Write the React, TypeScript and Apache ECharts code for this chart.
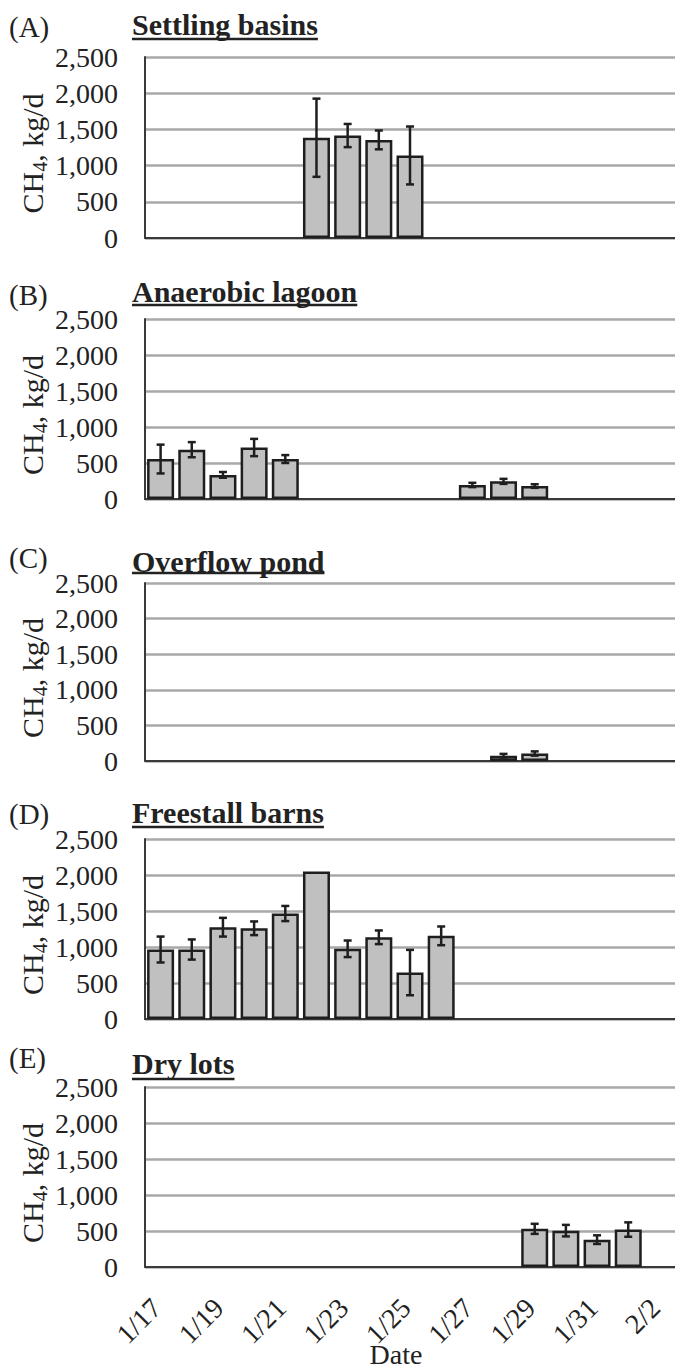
import React, { useEffect, useRef } from "react";
import * as echarts from "echarts";

const dates = ["1/17","1/18","1/19","1/20","1/21","1/22","1/23","1/24","1/25","1/26","1/27","1/28","1/29","1/30","1/31","2/1","2/2"];

const panelLetters = ["(A)", "(B)", "(C)", "(D)", "(E)"];
const panelTitles = ["Settling basins", "Anaerobic lagoon", "Overflow pond", "Freestall barns", "Dry lots"];

const settlingMean = [null, null, null, null, null, 1385, 1415, 1355, 1140, null, null, null, null, null, null, null, null];
const settlingErr = [null, null, null, null, null, 540, 160, 130, 400, null, null, null, null, null, null, null, null];

const lagoonMean = [555, 685, 335, 715, 555, null, null, null, null, null, 195, 245, 180, null, null, null, null];
const lagoonErr = [200, 105, 40, 120, 55, null, null, null, null, null, 30, 35, 25, null, null, null, null];

const overflowMean = [null, null, null, null, null, null, null, null, null, null, null, 75, 105, null, null, null, null];
const overflowErr = [null, null, null, null, null, null, null, null, null, null, null, 25, 30, null, null, null, null];

const barnsMean = [965, 965, 1275, 1260, 1465, 2050, 975, 1135, 645, 1155, null, null, null, null, null, null, null];
const barnsErr = [180, 140, 130, 95, 105, null, 115, 95, 315, 130, null, null, null, null, null, null, null];

const drylotsMean = [null, null, null, null, null, null, null, null, null, null, null, null, 530, 505, 380, 520, null];
const drylotsErr = [null, null, null, null, null, null, null, null, null, null, null, null, 70, 80, 60, 100, null];

const yTicks = [0, 500, 1000, 1500, 2000, 2500];

const means = [settlingMean, lagoonMean, overflowMean, barnsMean, drylotsMean];
const errs = [settlingErr, lagoonErr, overflowErr, barnsErr, drylotsErr];

// layout
const gridTop = [57, 319, 583, 839, 1087];
const gridHeight = [181, 180, 178, 180, 180];
const letterY = [27, 295, 558, 814, 1058];
const titleY = [24, 291, 561, 812, 1063];
const underlineY = [39, 305, 573, 827, 1079];

const FONT = "Liberation Serif";
const TXT = "#222";

export default function App() {
  const ref = useRef<HTMLDivElement>(null);
  useEffect(() => {
    if (!ref.current) return;
    const chart = echarts.init(ref.current, null, { renderer: "svg" });

    const ctx = document.createElement("canvas").getContext("2d")!;
    const measure = (t: string, font: string) => {
      ctx.font = font;
      return ctx.measureText(t).width;
    };

    const grids: any[] = [];
    const xAxes: any[] = [];
    const yAxes: any[] = [];
    const series: any[] = [];
    const graphics: any[] = [];

    const wCH = measure("CH", `30px "${FONT}"`);
    const w4 = measure("4", `20px "${FONT}"`);
    const wRest = measure(", kg/d", `30px "${FONT}"`);
    const wTot = wCH + w4 + wRest;

    for (let p = 0; p < 5; p++) {
      const last = p === 4;
      grids.push({ left: 145, right: 0, top: gridTop[p], height: gridHeight[p] });
      xAxes.push({
        type: "category",
        gridIndex: p,
        data: dates,
        boundaryGap: true,
        axisLine: { show: true, lineStyle: { color: "#3a3a3a", width: 2 } },
        axisTick: { show: false },
        axisLabel: last
          ? { show: true, interval: 1, rotate: 45, fontSize: 28, fontFamily: FONT, color: TXT, margin: 32, padding: [0, 6, 0, 0] }
          : { show: false },
        splitLine: { show: false },
      });
      yAxes.push({
        type: "value",
        gridIndex: p,
        min: yTicks[0],
        max: yTicks[yTicks.length - 1],
        interval: 500,
        axisLine: { show: true, lineStyle: { color: "#3a3a3a", width: 2 } },
        axisTick: { show: false },
        axisLabel: {
          fontSize: 28,
          fontFamily: FONT,
          color: TXT,
          margin: 27,
          formatter: (v: number) => v.toLocaleString("en-US"),
        },
        splitLine: { show: true, lineStyle: { color: "#a8a8a8", width: 2.5 } },
      });
      series.push({
        type: "bar",
        xAxisIndex: p,
        yAxisIndex: p,
        data: means[p],
        barWidth: 27,
        itemStyle: { color: "#c0c0c0", borderColor: "#1e1e1e", borderWidth: 2.5 },
        z: 2,
      });
      const errData: any[] = [];
      means[p].forEach((m, i) => {
        const e = errs[p][i];
        if (m != null && e != null) errData.push([i, m, e]);
      });
      series.push({
        type: "custom",
        xAxisIndex: p,
        yAxisIndex: p,
        data: errData,
        z: 5,
        renderItem: (params: any, api: any) => {
          const x = api.value(0);
          const v = api.value(1);
          const e = api.value(2);
          const t = api.coord([x, v + e]);
          const b = api.coord([x, Math.max(0, v - e)]);
          const hw = 4;
          const st = { stroke: "#1e1e1e", lineWidth: 2.5 };
          return {
            type: "group",
            children: [
              { type: "line", shape: { x1: t[0], y1: t[1], x2: b[0], y2: b[1] }, style: st },
              { type: "line", shape: { x1: t[0] - hw, y1: t[1], x2: t[0] + hw, y2: t[1] }, style: st },
              { type: "line", shape: { x1: b[0] - hw, y1: b[1], x2: b[0] + hw, y2: b[1] }, style: st },
            ],
          };
        },
      });

      // panel letter
      graphics.push({
        type: "text",
        x: 9,
        y: letterY[p],
        style: { text: panelLetters[p], fontSize: 29, fontFamily: FONT, fill: TXT, verticalAlign: "middle", align: "left" },
      });
      // title
      const tx = 132;
      graphics.push({
        type: "text",
        x: tx,
        y: titleY[p],
        style: { text: panelTitles[p], fontSize: 30, fontWeight: "bold", fontFamily: FONT, fill: TXT, verticalAlign: "middle", align: "left" },
      });
      const w = measure(panelTitles[p], `bold 30px "${FONT}"`);
      graphics.push({
        type: "line",
        shape: { x1: tx, y1: underlineY[p], x2: tx + w, y2: underlineY[p] },
        style: { stroke: TXT, lineWidth: 2.5 },
      });
      // y-axis title (rotated group with subscript)
      const x0 = -wTot / 2;
      graphics.push({
        type: "group",
        x: 32,
        y: gridTop[p] + gridHeight[p] / 2 + 6,
        rotation: Math.PI / 2,
        children: [
          {
            type: "text",
            x: x0,
            y: 0,
            style: { text: "CH", fontSize: 30, fontFamily: FONT, fill: TXT, align: "left", verticalAlign: "middle" },
          },
          {
            type: "text",
            x: x0 + wCH,
            y: 8,
            style: { text: "4", fontSize: 20, fontFamily: FONT, fill: TXT, align: "left", verticalAlign: "middle" },
          },
          {
            type: "text",
            x: x0 + wCH + w4,
            y: 0,
            style: { text: ", kg/d", fontSize: 30, fontFamily: FONT, fill: TXT, align: "left", verticalAlign: "middle" },
          },
        ],
      });
    }

    graphics.push({
      type: "text",
      x: 396,
      y: 1354,
      style: { text: "Date", fontSize: 28, fontFamily: FONT, fill: TXT, align: "center", verticalAlign: "middle" },
    });

    chart.setOption({
      animation: false,
      backgroundColor: "#ffffff",
      grid: grids,
      xAxis: xAxes,
      yAxis: yAxes,
      series,
      graphic: graphics,
    });
    return () => chart.dispose();
  }, []);

  return (
    <div
      ref={ref}
      style={{ position: "absolute", left: 0, top: 0, width: 675, height: 1371, background: "#fff" }}
    />
  );
}
